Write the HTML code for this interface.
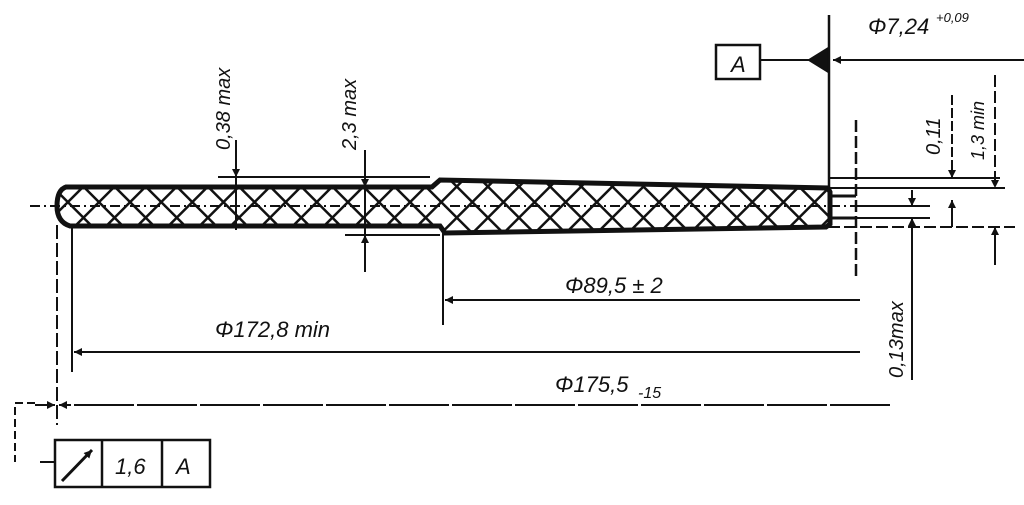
<!DOCTYPE html>
<html><head><meta charset="utf-8"><style>
html,body{margin:0;padding:0;background:#fff;width:1024px;height:505px;overflow:hidden}
text{font-family:"Liberation Sans",sans-serif;font-style:italic;fill:#111}
</style></head><body>
<svg width="1024" height="505" viewBox="0 0 1024 505" xmlns="http://www.w3.org/2000/svg">
<defs>
<pattern id="h" width="22" height="22" patternUnits="userSpaceOnUse" patternTransform="rotate(45 0 206)">
<rect width="22" height="22" fill="#fff"/>
<line x1="0" y1="0" x2="22" y2="0" stroke="#111" stroke-width="5"/>
<line x1="0" y1="0" x2="0" y2="22" stroke="#111" stroke-width="5"/>
</pattern>
<marker id="a" viewBox="0 0 10 10" refX="10" refY="5" markerWidth="14" markerHeight="8" orient="auto-start-reverse" markerUnits="userSpaceOnUse"><path d="M0,0 L10,5 L0,10 Z" fill="#111"/></marker>
</defs>
<g stroke="#111" fill="none">
<path d="M66,187 L432,187 L440,180 L828,188 L830,192 L830,224 L826,227 L445,233 L440,226 L70,226 Q57,222 57,206 Q57,190 66,187 Z" fill="url(#h)" stroke-width="5"/>
<line x1="828" y1="196" x2="856" y2="196" stroke-width="3"/>
<line x1="828" y1="218" x2="856" y2="218" stroke-width="3"/>
<line x1="30" y1="206" x2="880" y2="206" stroke-width="2" stroke-dasharray="10,4,2,4"/>
<line x1="218" y1="177" x2="430" y2="177" stroke-width="2"/>
<line x1="345" y1="235" x2="440" y2="235" stroke-width="2"/>
<line x1="828" y1="178" x2="1000" y2="178" stroke-width="2"/>
<line x1="828" y1="188" x2="1005" y2="188" stroke-width="2"/>
<line x1="856" y1="206" x2="930" y2="206" stroke-width="2"/>
<line x1="828" y1="218" x2="930" y2="218" stroke-width="2"/>
<line x1="828" y1="227" x2="1015" y2="227" stroke-width="2" stroke-dasharray="12,4"/>
<line x1="236" y1="140" x2="236" y2="230" stroke-width="2"/>
<line x1="236" y1="150" x2="236" y2="177" marker-end="url(#a)" stroke-width="2"/>
<line x1="365" y1="150" x2="365" y2="272" stroke-width="2"/>
<line x1="365" y1="155" x2="365" y2="187" marker-end="url(#a)" stroke-width="2"/>
<line x1="365" y1="268" x2="365" y2="235" marker-end="url(#a)" stroke-width="2"/>
<line x1="952" y1="95" x2="952" y2="178" marker-end="url(#a)" stroke-width="2" stroke-dasharray="10,3"/>
<line x1="952" y1="227" x2="952" y2="200" marker-end="url(#a)" stroke-width="2"/>
<line x1="995" y1="75" x2="995" y2="188" marker-end="url(#a)" stroke-width="2" stroke-dasharray="12,4"/>
<line x1="995" y1="265" x2="995" y2="227" marker-end="url(#a)" stroke-width="2"/>
<line x1="912" y1="190" x2="912" y2="206" marker-end="url(#a)" stroke-width="2"/>
<line x1="912" y1="380" x2="912" y2="218" marker-end="url(#a)" stroke-width="2"/>
<line x1="856" y1="120" x2="856" y2="278" stroke-width="2.5" stroke-dasharray="12,4"/>
<rect x="716" y="45" width="44" height="34" stroke-width="2.5"/>
<line x1="760" y1="60" x2="829" y2="60" stroke-width="2"/>
<path d="M808,60 L829,47 L829,73 Z" fill="#111"/>
<line x1="829" y1="15" x2="829" y2="190" stroke-width="2.5"/>
<line x1="1024" y1="60" x2="833" y2="60" marker-end="url(#a)" stroke-width="2"/>
<line x1="443" y1="232" x2="443" y2="325" stroke-width="2"/>
<line x1="860" y1="300" x2="445" y2="300" marker-end="url(#a)" stroke-width="2"/>
<line x1="72" y1="226" x2="72" y2="372" stroke-width="2"/>
<line x1="860" y1="352" x2="74" y2="352" marker-end="url(#a)" stroke-width="2"/>
<line x1="57" y1="225" x2="57" y2="425" stroke-width="2" stroke-dasharray="14,4"/>
<line x1="890" y1="405" x2="59" y2="405" marker-end="url(#a)" stroke-width="2" stroke-dasharray="60,3"/>
<line x1="35" y1="405" x2="55" y2="405" marker-end="url(#a)" stroke-width="2"/>
<polyline points="35,403 15,403 15,462" stroke-width="2" stroke-dasharray="8,4"/>
<line x1="40" y1="462" x2="55" y2="462" stroke-width="2"/>
<rect x="55" y="440" width="155" height="47" stroke-width="2.5"/>
<line x1="102" y1="440" x2="102" y2="487" stroke-width="2.5"/>
<line x1="162" y1="440" x2="162" y2="487" stroke-width="2.5"/>
<line x1="62" y1="481" x2="92" y2="450" marker-end="url(#a)" stroke-width="3"/>
</g>
<text x="731" y="72" font-size="22">A</text>
<text x="868" y="34" font-size="22">Φ7,24</text>
<text x="936" y="22" font-size="13">+0,09</text>
<text x="565" y="293" font-size="22">Φ89,5 ± 2</text>
<text x="215" y="337" font-size="22">Φ172,8 min</text>
<text x="555" y="392" font-size="22">Φ175,5</text>
<text x="638" y="398" font-size="16">-15</text>
<text x="115" y="474" font-size="22">1,6</text>
<text x="176" y="474" font-size="22">A</text>
<text transform="translate(230,150) rotate(-90)" font-size="20">0,38 max</text>
<text transform="translate(356,150) rotate(-90)" font-size="20">2,3 max</text>
<text transform="translate(940,155) rotate(-90)" font-size="20">0,11</text>
<text transform="translate(984,160) rotate(-90)" font-size="18">1,3 min</text>
<text transform="translate(903,378) rotate(-90)" font-size="20">0,13max</text>
</svg>
</body></html>
